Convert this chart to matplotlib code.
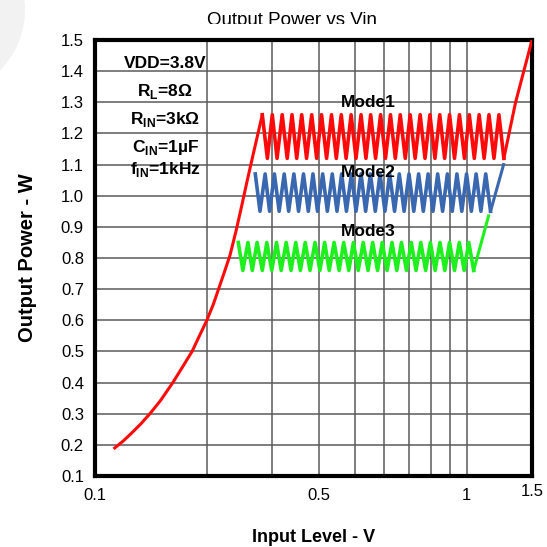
import matplotlib
matplotlib.use("Agg")
import matplotlib.pyplot as plt
from matplotlib.patches import Circle, Rectangle

plt.rcParams['font.family'] = ['Liberation Sans', 'DejaVu Sans']
plt.rcParams['mathtext.fontset'] = 'custom'
plt.rcParams['mathtext.rm'] = 'Liberation Sans'
plt.rcParams['mathtext.bf'] = 'Liberation Sans:bold'

# red curve from low input up to the Mode1 ripple
curve_x = [0.113, 0.119, 0.125, 0.133, 0.141, 0.150, 0.162, 0.172, 0.1825, 0.191,
           0.200, 0.208, 0.215, 0.223, 0.231, 0.240, 0.249, 0.257, 0.265]
curve_y = [0.19, 0.212, 0.236, 0.268, 0.302, 0.342, 0.40, 0.45, 0.50, 0.55,
           0.60, 0.65, 0.70, 0.755, 0.81, 0.89, 0.975, 1.05, 1.12]

# ripple turning points (peak, trough, peak, ...)
mode1_x = [0.282, 0.291, 0.300, 0.309, 0.319, 0.329, 0.339, 0.349, 0.360, 0.371,
           0.383, 0.395, 0.407, 0.420, 0.433, 0.446, 0.460, 0.474, 0.489, 0.504,
           0.520, 0.536, 0.552, 0.569, 0.587, 0.605, 0.624, 0.643, 0.663, 0.684,
           0.705, 0.727, 0.750, 0.773, 0.797, 0.822, 0.847, 0.873, 0.900, 0.928,
           0.957, 0.987, 1.017, 1.049, 1.081, 1.115, 1.149, 1.185, 1.222, 1.260]
mode2_x = [0.270, 0.278, 0.287, 0.295, 0.304, 0.313, 0.323, 0.332, 0.343, 0.353,
           0.364, 0.375, 0.386, 0.397, 0.410, 0.422, 0.435, 0.448, 0.461, 0.475,
           0.490, 0.504, 0.520, 0.535, 0.551, 0.568, 0.585, 0.603, 0.621, 0.640,
           0.659, 0.679, 0.700, 0.721, 0.743, 0.765, 0.788, 0.812, 0.836, 0.862,
           0.888, 0.915, 0.942, 0.971, 1.000, 1.030, 1.061, 1.093, 1.126, 1.160]
mode3_x = [0.243, 0.250, 0.258, 0.265, 0.273, 0.282, 0.290, 0.299, 0.308, 0.317,
           0.327, 0.337, 0.347, 0.357, 0.368, 0.379, 0.391, 0.403, 0.415, 0.427,
           0.440, 0.454, 0.467, 0.482, 0.496, 0.511, 0.527, 0.543, 0.559, 0.576,
           0.593, 0.611, 0.630, 0.649, 0.668, 0.689, 0.710, 0.731, 0.753, 0.776,
           0.799, 0.823, 0.848, 0.874, 0.900, 0.928, 0.956, 0.985, 1.014, 1.045]
mode1_hi, mode1_lo = 1.26, 1.12
mode2_hi, mode2_lo = 1.07, 0.95
mode3_hi, mode3_lo = 0.85, 0.76

# rising ends after the ripple
rise3_x, rise3_y = [1.045, 1.146], [0.76, 0.935]
rise2_x, rise2_y = [1.160, 1.258], [0.95, 1.10]
rise1_x, rise1_y = [1.260, 1.355, 1.5], [1.12, 1.30, 1.5]

mode_names = ['Mode1', 'Mode2', 'Mode3']
mode_label_y = [1.30, 1.075, 0.885]

conditions = ['VDD=3.8V', r'R$_\mathbf{L}$=8Ω', r'R$_\mathbf{IN}$=3kΩ',
              r'C$_\mathbf{IN}$=1µF', r'f$_\mathbf{IN}$=1kHz']
conditions_y = [1.423, 1.335, 1.245, 1.155, 1.085]

xtick_pos = [0.1, 0.4, 1, 1.5]
xtick_lab = ['0.1', '0.5', '1', '1.5']
xgrid_minor = [0.2, 0.3, 0.5, 0.6, 0.7, 0.8, 0.9]
yticks = [0.1, 0.2, 0.3, 0.4, 0.5, 0.6, 0.7, 0.8, 0.9, 1.0, 1.1, 1.2, 1.3, 1.4, 1.5]


def ripple(xs, hi, lo):
    return [hi if i % 2 == 0 else lo for i in range(len(xs))]


W = 5.47
fig = plt.figure(figsize=(W, W), dpi=100)
ax = fig.add_axes([95/547, 1-476/547, 437/547, 436/547])

blue = '#3a68b0'
green = '#1ef01e'
red = '#ff0a0a'

ax.plot(mode3_x, ripple(mode3_x, mode3_hi, mode3_lo), color=green, lw=2.6, zorder=3)
ax.plot(rise3_x, rise3_y, color=green, lw=2.2, zorder=3)
ax.plot(mode2_x, ripple(mode2_x, mode2_hi, mode2_lo), color=blue, lw=2.6, zorder=3)
ax.plot(rise2_x, rise2_y, color=blue, lw=2.2, zorder=3)
ax.plot(curve_x + mode1_x[:1], curve_y + [mode1_hi], color=red, lw=2.2, zorder=4,
        solid_joinstyle='round')
ax.plot(mode1_x, ripple(mode1_x, mode1_hi, mode1_lo), color=red, lw=2.6, zorder=4)
ax.plot(rise1_x, rise1_y, color=red, lw=2.2, zorder=4)

ax.set_xscale('log')
ax.set_xlim(0.1, 1.5)
ax.set_ylim(0.1, 1.5)
ax.set_xticks(xtick_pos)
ax.set_xticklabels(xtick_lab)
ax.set_xticks(xgrid_minor, minor=True)
ax.set_xticklabels([], minor=True)
ax.set_yticks(yticks)
ax.set_yticklabels(['%.1f' % v for v in yticks])
ax.tick_params(which='both', length=0, labelsize=12)
ax.tick_params(axis='y', pad=8)
ax.tick_params(axis='x', pad=9)
ax.xaxis.get_major_ticks()[3].set_pad(6)
ax.grid(which='both', color='#5a5a5a', lw=1.1)
ax.set_axisbelow(True)
for s in ax.spines.values():
    s.set_linewidth(3.0)
    s.set_color('black')

for t, y in zip(conditions, conditions_y):
    ax.text(0.1545, y, t, ha='center', va='center', fontsize=12.5,
            fontweight='bold', zorder=5)
for t, y in zip(mode_names, mode_label_y):
    ax.text(0.545, y, t, ha='center', va='center', fontsize=12.5,
            fontweight='bold', zorder=6)

ax.set_xlabel('Input Level - V', fontsize=13, fontweight='bold', labelpad=18)
ax.set_ylabel('Output Power - W', fontsize=14.5, fontweight='bold', labelpad=17)

# title partly hidden at the bottom, as in the source image
fig.text(292/547, 1-25/547, 'Output Power vs Vin', ha='center', va='baseline',
         fontsize=13.5, zorder=1)
fig.add_artist(Rectangle((1.8, W-0.36), 2.4, 0.12, transform=fig.dpi_scale_trans,
                         facecolor='white', edgecolor='none', zorder=10))
fig.add_artist(Circle((-0.6, W-0.10), 0.85, transform=fig.dpi_scale_trans,
                      facecolor='#f2f2f2', edgecolor='none', zorder=0))

fig.savefig('out.png', dpi=100)
